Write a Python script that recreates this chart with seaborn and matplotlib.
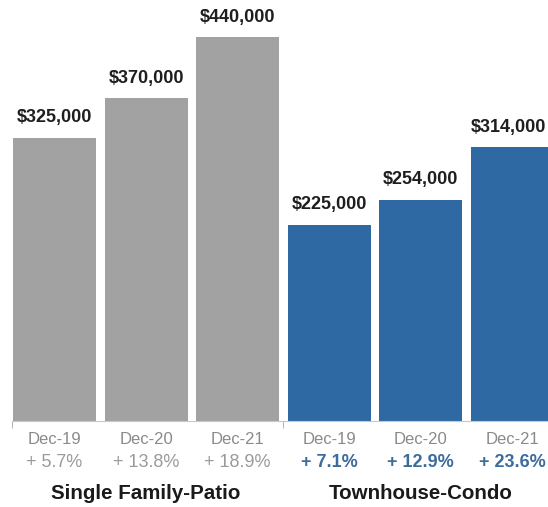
import matplotlib
matplotlib.use("Agg")
import matplotlib.pyplot as plt
import seaborn as sns
import pandas as pd

# Median sale prices by property type
groups = ["Single Family-Patio"] * 3 + ["Townhouse-Condo"] * 3
periods = ["Dec-19", "Dec-20", "Dec-21", "Dec-19", "Dec-20", "Dec-21"]
prices = [325000, 370000, 440000, 225000, 254000, 314000]
changes = ["+ 5.7%", "+ 13.8%", "+ 18.9%", "+ 7.1%", "+ 12.9%", "+ 23.6%"]
group_names = ["Single Family-Patio", "Townhouse-Condo"]

GRAY = "#a2a2a2"
BLUE = "#2f69a3"

df = pd.DataFrame({
    "key": [f"{g} {p}" for g, p in zip(groups, periods)],
    "group": groups,
    "price": prices,
})

sns.set_style("white")
plt.rcParams["font.family"] = ["Liberation Sans", "DejaVu Sans"]

fig = plt.figure(figsize=(5.48, 5.07), dpi=100)
ax = fig.add_axes([0.0, 0.1696, 1.0, 0.8304])

sns.barplot(data=df, x="key", y="price", hue="group",
            palette={group_names[0]: GRAY, group_names[1]: BLUE},
            dodge=False, width=0.906, legend=False, ax=ax,
            saturation=1.0, edgecolor="none")

ax.set_xlim(-0.595, 5.388)
ax.set_ylim(0, 482800)
ax.set_xlabel("")
ax.set_ylabel("")
ax.set_yticks([])
ax.set_xticks([])
for side in ["top", "right", "left"]:
    ax.spines[side].set_visible(False)
ax.spines["bottom"].set_color("#c8c8c8")
ax.spines["bottom"].set_linewidth(0.8)
ax.spines["bottom"].set_bounds(-0.465, 5.4)

# small separators at the start of each group
ax.set_xticks([-0.465, 2.5], minor=True)
ax.tick_params(axis="x", which="minor", length=5, width=0.8,
               color="#b8b8b8", direction="out", bottom=True)

n = len(prices)
for i, (v, ch) in enumerate(zip(prices, changes)):
    # keep the right-most price label inside the canvas
    dx = -3 if i == n - 1 else 0
    ax.annotate(f"${v:,.0f}", xy=(i, v), xytext=(dx, 14.5),
                textcoords="offset points", ha="center", va="center",
                fontsize=13, fontweight="bold", color="#1e1e1e")
    ax.annotate(periods[i], xy=(i, 0), xytext=(0, -13),
                textcoords="offset points", ha="center", va="center",
                fontsize=12, color="#8a8a8a", annotation_clip=False)
    blue = groups[i] == group_names[1]
    ax.annotate(ch, xy=(i, 0), xytext=(0, -30.2),
                textcoords="offset points", ha="center", va="center",
                fontsize=13, color="#3a6c9e" if blue else "#9a9a9a",
                fontweight="bold" if blue else "normal",
                annotation_clip=False)

for gi, name in enumerate(group_names):
    ax.annotate(name, xy=(1 + 3 * gi, 0), xytext=(0, -52),
                textcoords="offset points", ha="center", va="center",
                fontsize=14.8, fontweight="bold", color="#1a1a1a",
                annotation_clip=False)

fig.savefig("out.png", dpi=100, facecolor="white")
